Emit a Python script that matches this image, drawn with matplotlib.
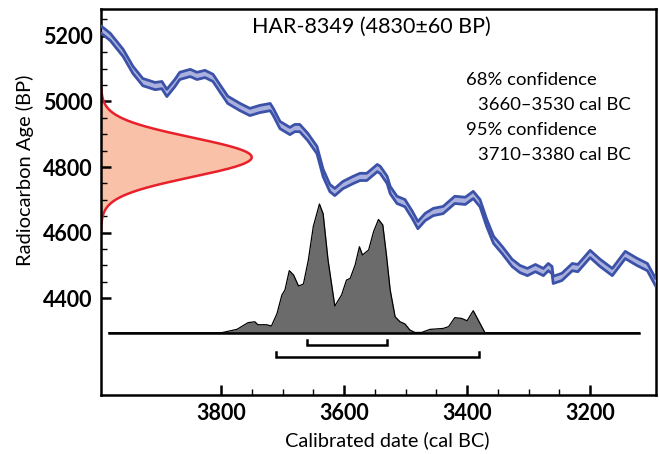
import numpy as np
import matplotlib
matplotlib.use("Agg")
import matplotlib.pyplot as plt
from matplotlib.ticker import FixedLocator

# ---------------- data ----------------
title = "HAR-8349 (4830±60 BP)"
measured_bp = 4830
measured_err = 60

# calibration curve (cal BC, BP centre)
curve_years = [3994, 3980, 3959, 3943, 3927, 3907, 3896, 3888, 3875, 3867, 3850,
               3839, 3826, 3813, 3802, 3789, 3769, 3753, 3737, 3720, 3715, 3704,
               3688, 3680, 3672, 3659, 3644, 3634, 3623, 3615, 3602, 3585, 3574,
               3563, 3546, 3541, 3530, 3525, 3514, 3501, 3489, 3480, 3468, 3455,
               3439, 3420, 3403, 3390, 3379, 3368, 3357, 3343, 3327, 3314, 3302,
               3289, 3276, 3268, 3262, 3260, 3246, 3229, 3220, 3200, 3184, 3164,
               3143, 3124, 3107, 3094]
curve_bp = [5218, 5197, 5148, 5096, 5059, 5047, 5050, 5026, 5056, 5078, 5087,
            5078, 5084, 5072, 5041, 5005, 4983, 4968, 4977, 4983, 4968, 4928,
            4910, 4919, 4919, 4892, 4852, 4782, 4736, 4724, 4745, 4761, 4770,
            4770, 4797, 4791, 4761, 4730, 4700, 4690, 4654, 4623, 4648, 4663,
            4669, 4700, 4697, 4715, 4690, 4629, 4578, 4547, 4508, 4489, 4480,
            4492, 4480, 4495, 4486, 4456, 4465, 4495, 4492, 4535, 4508, 4480,
            4532, 4511, 4495, 4450]
curve_err = 11

# calibrated probability distribution (cal BC, relative probability)
prob_years = [3982, 3799, 3774, 3756, 3745, 3740, 3726, 3718, 3709, 3701, 3696,
              3689, 3682, 3674, 3666, 3658, 3650, 3640, 3634, 3626, 3615, 3604,
              3596, 3590, 3582, 3575, 3570, 3560, 3552, 3544, 3537, 3531, 3525,
              3517, 3509, 3501, 3493, 3485, 3474, 3460, 3439, 3430, 3420, 3409,
              3400, 3390, 3382, 3371, 3120]
prob_vals = [0.0, 0.0, 0.026, 0.078, 0.085, 0.062, 0.062, 0.052, 0.148, 0.293,
             0.332, 0.482, 0.448, 0.363, 0.378, 0.565, 0.824, 1.0, 0.925, 0.565,
             0.207, 0.293, 0.409, 0.422, 0.526, 0.668, 0.604, 0.643, 0.785,
             0.880, 0.837, 0.600, 0.332, 0.124, 0.085, 0.068, 0.021, 0.002,
             0.002, 0.026, 0.033, 0.047, 0.117, 0.111, 0.093, 0.171, 0.099,
             0.0, 0.0]

range68 = (3660, 3530)
range95 = (3710, 3380)
text_lines = ["68% confidence", "3660–3530 cal BC", "95% confidence", "3710–3380 cal BC"]

x_major = [3800, 3600, 3400, 3200]
x_minor = [3750, 3700, 3650, 3550, 3500, 3450, 3350, 3300, 3250]
y_major = [4400, 4600, 4800, 5000, 5200]
y_minor = [4450, 4500, 4550, 4650, 4700, 4750, 4850, 4900, 4950, 5050, 5100, 5150, 5250]

# ---------------- figure ----------------
plt.rcParams['font.family'] = ['Lato', 'DejaVu Sans']
fig = plt.figure(figsize=(6.59, 4.54), dpi=100)
ax = fig.add_axes([101/659, 1-395/454, (656-101)/659, (395-9)/454])
ax.set_xlim(3995, 3093)
ax.set_ylim(4105, 5282)

# measurement gaussian on y axis
bp = np.linspace(4600, 5060, 300)
dens = np.exp(-(bp - measured_bp) ** 2 / (2 * measured_err ** 2))
gauss_x = 3995 - 245 * dens
ax.fill_betweenx(bp, 3995, gauss_x, color='#f9c2a8', lw=0, zorder=1)
ax.plot(gauss_x, bp, color='#e8202a', lw=1.8, zorder=2)

# calibration curve band
cy = np.array(curve_years)
cb = np.array(curve_bp)
ax.fill_between(cy, cb - curve_err, cb + curve_err, color='#aab1de', lw=0, zorder=3)
ax.plot(cy, cb + curve_err, color='#3b52a8', lw=2.0, zorder=4)
ax.plot(cy, cb - curve_err, color='#3b52a8', lw=2.0, zorder=4)

# probability distribution on a twin axis
ax2 = ax.twinx()
ax2.set_ylim(-0.484, 2.515)
ax2.axis('off')
ax2.fill_between(prob_years, 0, prob_vals, color='#6b6b6b', lw=0, zorder=1)
ax2.plot(prob_years, prob_vals, color='black', lw=0.9, zorder=2)
ax2.plot([3982, 3120], [0, 0], color='black', lw=1.8, zorder=3)

# range brackets
def bracket(r, y, h):
    ax.plot([r[0], r[0], r[1], r[1]], [y + h, y, y, y + h], color='black', lw=1.8,
            solid_joinstyle='miter', zorder=5)

bracket(range68, 4258, 16)
bracket(range95, 4220, 17)

# ticks
ax.xaxis.set_major_locator(FixedLocator(x_major))
ax.xaxis.set_minor_locator(FixedLocator(x_minor))
ax.yaxis.set_major_locator(FixedLocator(y_major))
ax.yaxis.set_minor_locator(FixedLocator(y_minor))
ax.tick_params(which='major', direction='in', length=7, width=1.8, labelsize=15.5, pad=6)
ax.tick_params(which='minor', direction='in', length=4, width=1.0)
for lab in ax.get_xticklabels() + ax.get_yticklabels():
    lab.set_fontweight('bold')
for s in ax.spines.values():
    s.set_linewidth(1.8)

ax.set_xlabel("Calibrated date (cal BC)", fontsize=14.3)
ax.xaxis.set_label_coords((387-101)/555, -(440-395)/386)
ax.xaxis.label.set_va('center')
ax.set_ylabel("Radiocarbon Age (BP)", fontsize=14.5)
ax.yaxis.set_label_coords(-(101-25)/555, (395-170)/386)
ax.yaxis.label.set_va('center')
ax.yaxis.label.set_ha('center')

ax.text(0.487, 0.955, title, transform=ax.transAxes, ha='center', va='center', fontsize=15.5)
ys = [80, 105, 130, 155]
xs = [466, 478, 466, 478]
for t, xp, yp in zip(text_lines, xs, ys):
    fig.text(xp/659, 1 - yp/454, t, ha='left', va='center', fontsize=13.3)

fig.savefig("out.png", dpi=100)
